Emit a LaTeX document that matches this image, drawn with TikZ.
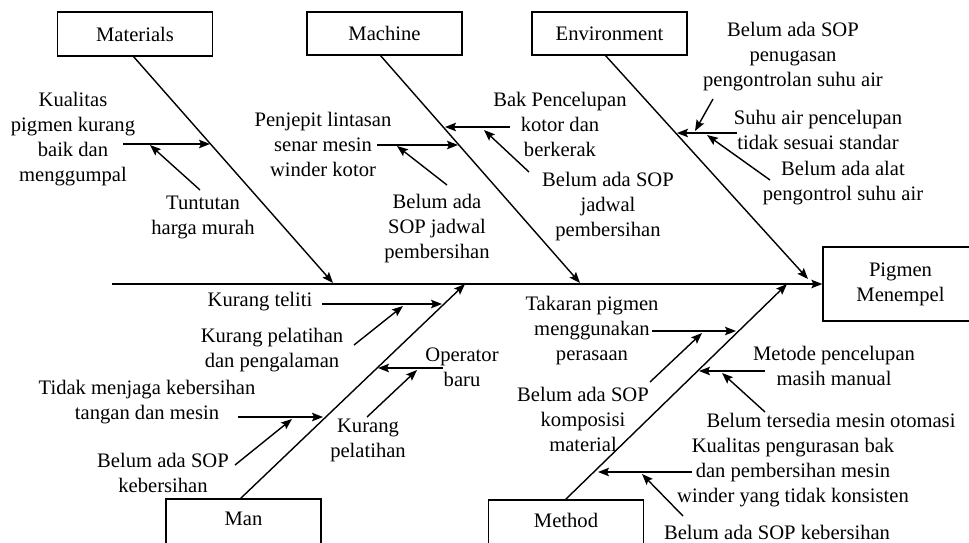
\documentclass[tikz,border=0pt]{standalone}
\usepackage{fontspec}
\setmainfont{Liberation Serif}
\usetikzlibrary{arrows.meta}
\begin{document}
\begin{tikzpicture}[x=1pt,y=-1pt,
  lbl/.style={align=center,inner sep=0pt,font=\fontsize{20.6}{25}\selectfont},
  catbox/.style={draw,line width=1.3pt,inner sep=0pt,minimum width=155pt,font=\fontsize{20.6}{25}\selectfont,align=center},
  ln/.style={line width=1.4pt},
  arr/.style={ln,-{Stealth[length=11pt,width=8.5pt,inset=2pt]}}]
\useasboundingbox (0,0) rectangle (969,542);
% category boxes
\node[catbox,minimum height=44pt] (mat) at (135,34) {Materials};
\node[catbox,minimum height=43pt] (mach) at (384.5,33.5) {Machine};
\node[catbox,minimum height=43pt] (env) at (609.5,33.5) {Environment};
\node[catbox,minimum height=74pt] (pig) at (900.5,284) {Pigmen\\Menempel};
\node[catbox,minimum height=48pt,text depth=8pt] (man) at (243.5,523) {Man};
\node[catbox,minimum height=48pt,text depth=8pt] (meth) at (566,524) {Method};
% spine
\coordinate (sp0) at (112,284);
\draw[arr] (sp0) -- (pig.west);
% bones
\coordinate (b1s) at (133,56);  \coordinate (b1e) at (333,283);
\coordinate (b2s) at (380,55);  \coordinate (b2e) at (580,283);
\coordinate (b3s) at (605,55);  \coordinate (b3e) at (808,279);
\coordinate (b4s) at (240,499); \coordinate (b4e) at (465,284);
\coordinate (b5s) at (565,500); \coordinate (b5e) at (787,284);
\draw[arr] (b1s) -- (b1e);
\draw[arr] (b2s) -- (b2e);
\draw[arr] (b3s) -- (b3e);
\draw[arr] (b4s) -- (b4e);
\draw[arr] (b5s) -- (b5e);
% texts
\node[lbl] (kual) at (73,139) {Kualitas\\pigmen kurang\\baik dan\\menggumpal};
\node[lbl] (tunt) at (203,217) {Tuntutan\\harga murah};
\node[lbl] (penj) at (323,144) {Penjepit lintasan\\senar mesin\\winder kotor};
\node[lbl] (bsja) at (437,229) {Belum ada\\SOP jadwal\\pembersihan};
\node[lbl] (bak) at (560,124) {Bak Pencelupan\\kotor dan\\berkerak};
\node[lbl] (bsjb) at (608,207) {Belum ada SOP\\jadwal\\pembersihan};
\node[lbl] (bsp) at (793,57) {Belum ada SOP\\penugasan\\pengontrolan suhu air};
\node[lbl] (suhu) at (818,130) {Suhu air pencelupan\\tidak sesuai standar};
\node[lbl] (alat) at (843,183) {Belum ada alat\\pengontrol suhu air};
\node[lbl] (tel) at (260,302) {Kurang teliti};
\node[lbl] (kpp) at (272,350) {Kurang pelatihan\\dan pengalaman};
\node[lbl] (oper) at (462,367) {Operator\\baru};
\node[lbl] (kp) at (368,440) {Kurang\\pelatihan};
\node[lbl] (tdk) at (147,402) {Tidak menjaga kebersihan\\tangan dan mesin};
\node[lbl] (bska) at (163,473) {Belum ada SOP\\kebersihan};
\node[lbl] (tak) at (592,331) {Takaran pigmen\\menggunakan\\perasaan};
\node[lbl] (bkom) at (583,419) {Belum ada SOP\\komposisi\\material};
\node[lbl] (met) at (834,366) {Metode pencelupan\\masih manual};
\node[lbl] (bts) at (831,420) {Belum tersedia mesin otomasi};
\node[lbl] (kpb) at (793,473) {Kualitas pengurasan bak\\dan pembersihan mesin\\winder yang tidak konsisten};
\node[lbl] (bskb) at (777,532) {Belum ada SOP kebersihan};
% Materials branches
\coordinate (h1s) at (123,144); \coordinate (h1e) at (210,144);
\draw[arr] (h1s) -- (h1e);
\coordinate (s1s) at (200,190); \coordinate (s1e) at (150,145);
\draw[arr] (s1s) -- (s1e);
% Machine branches
\coordinate (h2s) at (377,145); \coordinate (h2e) at (458,145);
\draw[arr] (h2s) -- (h2e);
\coordinate (s2s) at (447,185); \coordinate (s2e) at (397,146);
\draw[arr] (s2s) -- (s2e);
\coordinate (h3s) at (510,127); \coordinate (h3e) at (445,127);
\draw[arr] (h3s) -- (h3e);
\coordinate (s3s) at (529,172); \coordinate (s3e) at (484,130);
\draw[arr] (s3s) -- (s3e);
% Environment branches
\coordinate (h4s) at (737,133); \coordinate (h4e) at (677,133);
\draw[arr] (h4s) -- (h4e);
\coordinate (s4s) at (713,99); \coordinate (s4e) at (695,131);
\draw[arr] (s4s) -- (s4e);
\coordinate (s5s) at (770,180); \coordinate (s5e) at (707,135);
\draw[arr] (s5s) -- (s5e);
% Man branches
\coordinate (h5s) at (322,304); \coordinate (h5e) at (442,304);
\draw[arr] (h5s) -- (h5e);
\coordinate (s6s) at (354,345); \coordinate (s6e) at (403,306);
\draw[arr] (s6s) -- (s6e);
\coordinate (h6s) at (443,368); \coordinate (h6e) at (378,368);
\draw[arr] (h6s) -- (h6e);
\coordinate (s7s) at (367,417); \coordinate (s7e) at (417,370);
\draw[arr] (s7s) -- (s7e);
\coordinate (h7s) at (238,417); \coordinate (h7e) at (323,417);
\draw[arr] (h7s) -- (h7e);
\coordinate (s8s) at (235,465); \coordinate (s8e) at (292,419);
\draw[arr] (s8s) -- (s8e);
% Method branches
\coordinate (h8s) at (652,331); \coordinate (h8e) at (736,331);
\draw[arr] (h8s) -- (h8e);
\coordinate (s9s) at (650,382); \coordinate (s9e) at (702,333);
\draw[arr] (s9s) -- (s9e);
\coordinate (h9s) at (765,371); \coordinate (h9e) at (699,371);
\draw[arr] (h9s) -- (h9e);
\coordinate (s10s) at (765,412); \coordinate (s10e) at (722,373);
\draw[arr] (s10s) -- (s10e);
\coordinate (h10s) at (692,472); \coordinate (h10e) at (598,472);
\draw[arr] (h10s) -- (h10e);
\coordinate (s11s) at (683,516); \coordinate (s11e) at (642,474);
\draw[arr] (s11s) -- (s11e);
\end{tikzpicture}
\end{document}
